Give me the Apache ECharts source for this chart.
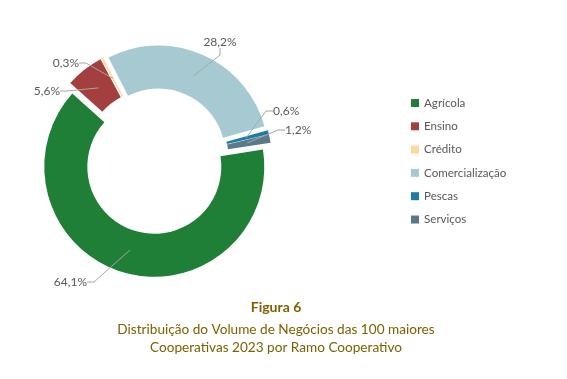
<!DOCTYPE html>
<html>
<head>
<meta charset="utf-8">
<script src="https://cdn.jsdelivr.net/npm/echarts@6/dist/echarts.min.js"></script>
<style>
html,body{margin:0;padding:0;background:#fff;}
#chart{width:567px;height:379px;}
</style>
</head>
<body>
<div id="chart"></div>
<script>
const categories = ['Agrícola', 'Ensino', 'Crédito', 'Comercialização', 'Pescas', 'Serviços'];
const values = [64.1, 5.6, 0.3, 28.2, 0.6, 1.2];
const colors = ['#1F7F37', '#A33F3F', '#FFD89C', '#A7CAD2', '#197DA5', '#5B7A89'];
const titleText = 'Figura 6';
const subtitleText = 'Distribuição do Volume de Negócios das 100 maiores\nCooperativas 2023 por Ramo Cooperativo';

// label placement (layout, not data)
const labelPos = [
  {x: 87, y: 282, align: 'right'},
  {x: 60, y: 91, align: 'right'},
  {x: 79, y: 63, align: 'right'},
  {x: 220, y: 42, align: 'center'},
  {x: 273, y: 111, align: 'left'},
  {x: 285, y: 130, align: 'left'}
];

const chart = echarts.init(document.getElementById('chart'), null, {renderer: 'canvas'});
const FONT = 'Lato, "Open Sans", sans-serif';
const fmt = p => String(p.value).replace('.', ',') + '%';
const CENTER = [156, 161];

chart.setOption({
  animation: false,
  color: colors,
  title: {
    text: titleText,
    subtext: subtitleText,
    left: 271,
    top: 293,
    textAlign: 'center',
    itemGap: 4,
    textStyle: {fontFamily: FONT, fontSize: 14, fontWeight: 'bold', color: '#7F6000', lineHeight: 18},
    subtextStyle: {fontFamily: FONT, fontSize: 13.6, color: '#7F6000', lineHeight: 18.5}
  },
  legend: {
    orient: 'vertical',
    left: 406,
    top: 92,
    itemWidth: 8,
    itemHeight: 8,
    itemGap: 11.3,
    icon: 'rect',
    selectedMode: false,
    textStyle: {fontFamily: FONT, fontSize: 11.6, color: '#595959'},
    data: categories
  },
  series: [{
    type: 'pie',
    z: 2,
    center: CENTER,
    radius: [67, 110],
    startAngle: 9,
    clockwise: true,
    selectedMode: 'multiple',
    selectedOffset: 6,
    emphasis: {disabled: true},
    itemStyle: {borderWidth: 0},
    label: {show: false},
    labelLine: {show: false},
    data: categories.map((c, i) => ({name: c, value: values[i], selected: true}))
  }, {
    // transparent twin carrying the percentage labels
    type: 'pie',
    z: 5,
    center: CENTER,
    radius: [67, 93],
    startAngle: 9,
    clockwise: true,
    silent: true,
    avoidLabelOverlap: false,
    emphasis: {disabled: true},
    itemStyle: {color: 'rgba(0,0,0,0)', borderWidth: 0},
    label: {
      show: true,
      position: 'outside',
      fontFamily: FONT,
      fontSize: 12,
      color: '#595959',
      formatter: fmt
    },
    labelLine: {show: true, length: 10, length2: 7, lineStyle: {color: '#A6A6A6', width: 1}},
    labelLayout: p => {
      const lp = labelPos[p.dataIndex];
      return {x: lp.x, y: lp.y, align: lp.align, verticalAlign: 'middle'};
    },
    data: categories.map((c, i) => ({name: c, value: values[i]}))
  }]
});
</script>
</body>
</html>
